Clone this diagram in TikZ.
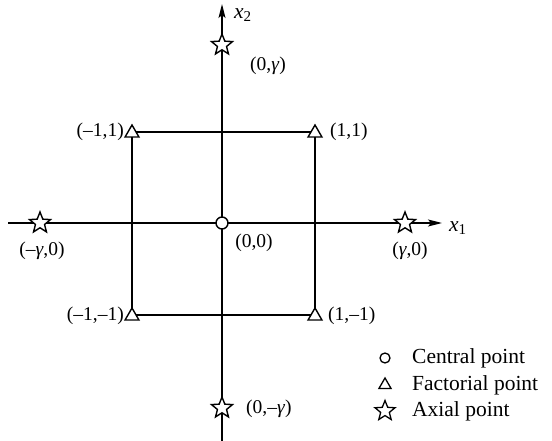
\documentclass[tikz,border=0pt]{standalone}
\usepackage{fontspec}
\setmainfont{Liberation Serif}
\usetikzlibrary{shapes.geometric,arrows.meta}
\begin{document}
\begin{tikzpicture}[x=1pt,y=-1pt,
  lbl/.style={font=\fontsize{19.5}{22}\selectfont, inner sep=0pt},
  leg/.style={font=\fontsize{21.5}{24}\selectfont, inner sep=0pt},
  axis/.style={line width=1.4pt, -{Stealth[length=14pt,width=7pt,inset=3pt]}},
  edge/.style={line width=1.4pt},
  starpt/.style={star, star points=5, star point ratio=2.3, draw, line width=1.4pt, fill=white, minimum size=22pt, inner sep=0pt},
  tript/.style={regular polygon, regular polygon sides=3, draw, line width=1.4pt, fill=white, minimum size=16pt, inner sep=0pt},
  cirpt/.style={circle, draw, line width=1.4pt, fill=white, minimum size=12pt, inner sep=0pt}]
\useasboundingbox (0,0) rectangle (552,441);
% axes endpoints
\coordinate (xl) at (8,223);
\coordinate (xr) at (442,223);
\coordinate (yb) at (222,441);
\coordinate (yt) at (222,4);
\coordinate (c11) at (315,132);
\coordinate (cm11) at (132,132);
\coordinate (cm1m1) at (132,315);
\coordinate (c1m1) at (315,315);
\draw[axis] (xl) -- (xr);
\draw[axis] (yb) -- (yt);
\draw[edge] (cm11) -- (c11) -- (c1m1) -- (cm1m1) -- cycle;
% points
\node[cirpt] (o) at (222,223) {};
\node[tript] (t1) at (c11) [yshift=-1pt] {};
\node[tript] (t2) at (cm11) [yshift=-1pt] {};
\node[tript] (t3) at (cm1m1) [yshift=-1pt] {};
\node[tript] (t4) at (c1m1) [yshift=-1pt] {};
\node[starpt] (s1) at (222,45) {};
\node[starpt] (s2) at (222,408) {};
\node[starpt] (s3) at (40,223) {};
\node[starpt] (s4) at (405,223) {};
% labels
\node[leg, anchor=west] (lx2) at (234,15) {\textit{x}\textsubscript{2}};
\node[leg, anchor=west] (lx1) at (449,228) {\textit{x}\textsubscript{1}};
\node[lbl] (l0g) at (268,66) {(0,\textit{γ})};
\node[lbl, anchor=east] (lm11) at (124,132) {(–1,1)};
\node[lbl, anchor=west] (l11) at (330,132) {(1,1)};
\node[lbl] (lmg0) at (42,251) {(–\textit{γ},0)};
\node[lbl] (l00) at (254,243) {(0,0)};
\node[lbl] (lg0) at (410,251) {(\textit{γ},0)};
\node[lbl, anchor=east] (lm1m1) at (124,316) {(–1,–1)};
\node[lbl, anchor=west] (l1m1) at (328,316) {(1,–1)};
\node[lbl, anchor=west] (l0mg) at (246,409) {(0,–\textit{γ})};
% legend
\node[circle, draw, line width=1.3pt, minimum size=10pt, inner sep=0pt] (lgc) at (385,358) {};
\node[regular polygon, regular polygon sides=3, draw, line width=1.3pt, minimum size=14pt, inner sep=0pt] (lgt) at (385,385) {};
\node[star, star points=5, star point ratio=2.3, draw, line width=1.3pt, minimum size=21pt, inner sep=0pt] (lgs) at (385,411) {};
\node[leg, anchor=west] (lt1) at (412,358) {Central point};
\node[leg, anchor=west] (lt2) at (412,385) {Factorial point};
\node[leg, anchor=west] (lt3) at (412,411) {Axial point};
\end{tikzpicture}
\end{document}
